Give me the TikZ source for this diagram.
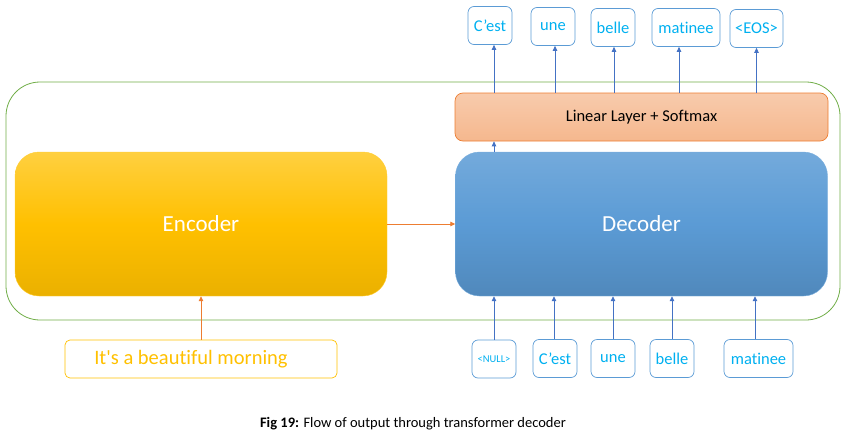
\documentclass[tikz,border=0pt]{standalone}
\usepackage{fontspec}
\setmainfont{Carlito}[Ligatures={NoCommon}]
\usetikzlibrary{arrows.meta}
\definecolor{grn}{HTML}{70AD47}
\definecolor{tokc}{HTML}{00B0F0}
\definecolor{tokb}{HTML}{5B9BD5}
\definecolor{arrb}{HTML}{4472C4}
\definecolor{orng}{HTML}{ED7D31}
\definecolor{gold}{HTML}{FFC000}
\tikzset{
  every node/.style={font=\fontsize{16.5}{19}\selectfont, inner sep=0pt},
  tok/.style={draw=tokb, line width=0.7pt, rounded corners=6pt, text=tokc, minimum height=38pt},
  barr/.style={draw=arrb, line width=0.8pt, -{Triangle[width=4.5pt,length=5pt]}},
  oarr/.style={draw=orng, line width=0.8pt, -{Triangle[width=4.5pt,length=5pt]}},
  bigbox/.style={rounded corners=24pt, minimum width=372pt, minimum height=144pt, text=white, font=\fontsize{23}{27}\selectfont},
}
\begin{document}
\begin{tikzpicture}[x=1pt,y=-1pt]
\useasboundingbox (0,0) rectangle (843,439);
% outer green frame
\draw[grn, line width=0.8pt, rounded corners=34pt] (6,82) rectangle (840,320);
% encoder
\node[bigbox, top color=gold!75!white, bottom color=gold!92!black, middle color=gold, draw=gold!80!white, line width=0.4pt] (enc) at (201,224) {Encoder};
% decoder
\node[bigbox, top color=tokb!85!white, bottom color=tokb!88!black, middle color=tokb, draw=tokb!80!white, line width=0.4pt] (dec) at (641.5,224) {Decoder};
% linear layer
\node[rounded corners=8pt, minimum width=373pt, minimum height=48pt, top color=orng!40!white, bottom color=orng!55!white, draw=orng, line width=0.7pt, font=\fontsize{16.5}{19}\selectfont] (lin) at (641.5,117) {Linear Layer + Softmax};
% top outputs
\node[tok, minimum width=44pt] (o1) at (490,25.5) {C’est};
\node[tok, minimum width=44pt] (o2) at (553,26.5) {une};
\node[tok, minimum width=44pt] (o3) at (613,27.5) {belle};
\node[tok, minimum width=68pt] (o4) at (686,27.5) {matinee};
\node[tok, minimum width=53pt] (o5) at (756.5,28.5) {<EOS>};
% bottom inputs
\node[tok, minimum width=44pt] (i1) at (494,359) {\fontsize{10.5}{12}\selectfont <NULL>};
\node[tok, minimum width=44pt] (i2) at (555,358.5) {C’est};
\node[tok, minimum width=44pt] (i3) at (613,358.5) {une};
\node[tok, minimum width=44pt] (i4) at (672,358.5) {belle};
\node[tok, minimum width=69pt] (i5) at (758.5,358.5) {matinee};
% input sentence
\node[draw=gold, line width=0.7pt, rounded corners=5pt, minimum width=272pt, minimum height=38pt, text=gold, font=\fontsize{20.5}{24}\selectfont] (inp) at (201,359) {\hspace*{-20pt}It\textquotesingle s a beautiful morning};
% caption
\node[font=\fontsize{14.5}{17}\selectfont, anchor=center] (cap) at (413,424) {\textbf{Fig 19:} Flow of output through transformer decoder};
% arrows top
\draw[barr] (lin.north -| o1) ++(4,0) coordinate (a1) -- (a1 |- o1.south);
\draw[barr] (lin.north -| 555,0) coordinate (a2) -- (a2 |- o2.south);
\draw[barr] (lin.north -| 614,0) coordinate (a3) -- (a3 |- o3.south);
\draw[barr] (lin.north -| 679,0) coordinate (a4) -- (a4 |- o4.south);
\draw[barr] (lin.north -| o5) coordinate (a5) -- (a5 |- o5.south);
\draw[barr] (dec.north -| 494,0) coordinate (a6) -- (a6 |- lin.south);
% arrows bottom
\draw[barr] (i1.north) -- (i1.north |- dec.south);
\draw[barr] (i2.north) ++(-1,0) coordinate (b2) -- (b2 |- dec.south);
\draw[barr] (i3.north) -- (i3.north |- dec.south);
\draw[barr] (i4.north) -- (i4.north |- dec.south);
\draw[barr] (i5.north) ++(-3.5,0) coordinate (b5) -- (b5 |- dec.south);
% orange arrows
\draw[oarr] (inp.north) -- (enc.south);
\draw[oarr] (enc.east) -- (dec.west);
\end{tikzpicture}
\end{document}
